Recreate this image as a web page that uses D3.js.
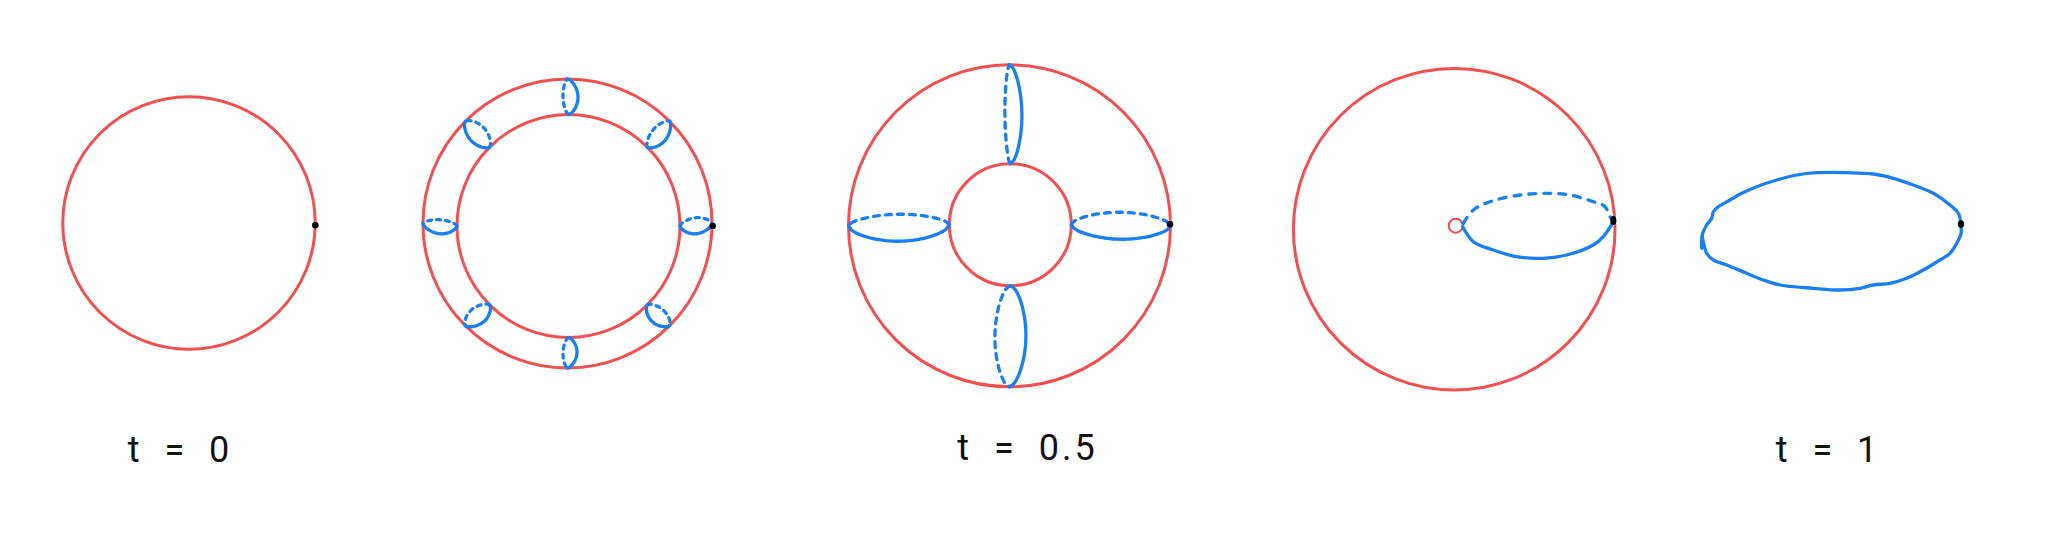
<!DOCTYPE html>
<html>
<head>
<meta charset="utf-8">
<script src="https://cdn.jsdelivr.net/npm/d3@7"></script>
<style>
  html, body { margin: 0; padding: 0; background: #ffffff; }
  svg { display: block; }
</style>
</head>
<body>
<div id="chart"></div>
<script>
// ---------------- data (in picture units) ----------------
// big red circles: t=0, ring outer, ring inner, t=0.5 outer, t=0.5 inner, t=1
const circleCX = [189, 567.5, 568.5, 1009.5, 1010.3, 1454.2];
const circleCY = [223, 223.5, 226, 225.8, 224.7, 229.2];
const circleR  = [126.2, 144.5, 111.5, 161, 61, 160.8];

// small hollow red circle (t = 1 pinch point)
const holeCX = [1455.7];
const holeCY = [225.7];
const holeR  = [7];

// black base points
const dotX  = [315.3, 712.7, 1170, 1613.3, 1961];
const dotY  = [225.3, 226, 224.3, 220.5, 224];
const dotRX = [3.3, 3.2, 3.3, 3, 3.2];
const dotRY = [3.3, 3.2, 3.3, 4.6, 3.8];

// meridian loops on the thin ring (outer idx 1, inner idx 2)
const ringAAngles = [0, 45, 90, 135, 180, 225, 270, 315];
const ringASide   = [1, 1, 1, -1, -1, -1, -1, 1];
const ringASolid  = [9, 9, 10, 9, 9, 9, 9, 9];
const ringADashed = [7, 7, 5, 9, 5, 8, 5, 7];

// meridian loops on the fat ring (outer idx 3, inner idx 4)
const ringBAngles = [0, 90, 180, 270];
const ringBSide   = [1, 1, -1, -1];
const ringBSolid  = [14, 12, 16, 16];
const ringBDashed = [13, 5, 11, 15];

// t = 1 loop inside the sphere
const sphereLoopSolid = [[1462.7,226.7],[1473.3,241.7],[1493.3,250],[1516.7,256.7],[1543.3,258.3],
  [1566.7,255],[1593.3,245],[1603.3,236.7],[1613.3,221.7]];
const sphereLoopDashed = [[1463.3,223.3],[1473.3,210],[1490,201.7],[1520,195],[1546.7,193.3],
  [1570,195],[1593.3,201.7],[1605,206.7],[1610,216.7],[1613.3,221.7]];

// t = 1 free loop (hand drawn)
const blobTop = [[1961,224],[1958.3,213.3],[1950,205],[1933.3,193.3],[1913.3,185],[1893.3,178.3],
  [1873.3,174],[1846.7,172.7],[1816.7,172.7],[1796.7,175],[1776.7,180],[1756.7,186.7],[1741.7,193.3],
  [1730,200],[1718.3,206.7],[1713.3,211.7],[1711.7,218.3],[1706.7,225],[1702.7,233.3],[1701.7,240],[1701.7,248.3]];
const blobBottom = [[1702.2,236],[1706.7,253.3],[1713.3,260],[1726.7,265],[1746.7,273.3],[1763.3,280],
  [1780,285],[1813.3,288.3],[1840,290],[1860,288.3],[1873.3,285],[1890,283.3],[1906.7,278.3],
  [1923.3,270],[1940,260],[1950,253.3],[1956.7,243.3],[1961,233.3],[1961,224]];

// labels
const labelText = ["t = 0", "t = 0.5", "t = 1"];
const labelX    = [180, 1027.5, 1828];
const labelY    = [462, 460, 462];

// ---------------- drawing ----------------
const W = 2048, H = 542;
const RED = "#f25050", BLUE = "#1a7ff0";

const x = d3.scaleLinear().domain([0, 2048]).range([0, W]);
const y = d3.scaleLinear().domain([0, 542]).range([0, H]);
const len = d3.scaleLinear().domain([0, 2048]).range([0, W]);

const svg = d3.select("#chart").append("svg")
  .attr("width", W).attr("height", H)
  .attr("viewBox", `0 0 ${W} ${H}`);

svg.append("rect").attr("width", W).attr("height", H).attr("fill", "#fff");

const circles = circleCX.map((cx, i) => ({ cx, cy: circleCY[i], r: circleR[i] }));
svg.append("g").selectAll("circle").data(circles).join("circle")
  .attr("cx", d => x(d.cx)).attr("cy", d => y(d.cy)).attr("r", d => len(d.r))
  .attr("fill", "none").attr("stroke", RED).attr("stroke-width", 3);

svg.append("g").selectAll("circle").data(holeCX.map((cx, i) => ({ cx, cy: holeCY[i], r: holeR[i] })))
  .join("circle")
  .attr("cx", d => x(d.cx)).attr("cy", d => y(d.cy)).attr("r", d => len(d.r))
  .attr("fill", "none").attr("stroke", RED).attr("stroke-width", 2);

const line = d3.line().x(d => x(d[0])).y(d => y(d[1])).curve(d3.curveCatmullRom.alpha(0.5));

function loopPaths(outer, inner, angles, sides, solids, dashes, power) {
  const out = [];
  angles.forEach((deg, i) => {
    const t = deg * Math.PI / 180;
    const ux = Math.cos(t), uy = -Math.sin(t);
    const px = Math.sin(t), py = Math.cos(t);
    const a = [circleCX[inner] + circleR[inner] * ux, circleCY[inner] + circleR[inner] * uy];
    const b = [circleCX[outer] + circleR[outer] * ux, circleCY[outer] + circleR[outer] * uy];
    const mk = amp => d3.range(0, 1.0001, 1 / 30).map(s => {
      const k = amp * Math.pow(Math.sin(Math.PI * s), power);
      return [a[0] + (b[0] - a[0]) * s + k * px, a[1] + (b[1] - a[1]) * s + k * py];
    });
    out.push({ pts: mk(sides[i] * solids[i]), dashed: false });
    out.push({ pts: mk(-sides[i] * dashes[i]), dashed: true });
  });
  return out;
}

const ringALoops = loopPaths(1, 2, ringAAngles, ringASide, ringASolid, ringADashed, 0.6);
const ringBLoops = loopPaths(3, 4, ringBAngles, ringBSide, ringBSolid, ringBDashed, 0.55);

function drawLoops(data, dash) {
  svg.append("g").selectAll("path").data(data).join("path")
    .attr("d", d => line(d.pts))
    .attr("fill", "none").attr("stroke", BLUE).attr("stroke-width", 3.3)
    .attr("stroke-linecap", "round").attr("stroke-linejoin", "round")
    .attr("stroke-dasharray", d => d.dashed ? dash : null);
}
drawLoops(ringALoops, "4,5");
drawLoops(ringBLoops, "6,6");
drawLoops([{ pts: sphereLoopSolid, dashed: false }, { pts: sphereLoopDashed, dashed: true }], "7,8");
drawLoops([{ pts: blobTop, dashed: false }, { pts: blobBottom, dashed: false }], null);

svg.append("g").selectAll("ellipse").data(dotX.map((v, i) => ({ x: v, y: dotY[i], rx: dotRX[i], ry: dotRY[i] })))
  .join("ellipse")
  .attr("cx", d => x(d.x)).attr("cy", d => y(d.y))
  .attr("rx", d => len(d.rx)).attr("ry", d => len(d.ry))
  .attr("fill", "#000");

svg.append("g").selectAll("text").data(labelText).join("text")
  .attr("x", (d, i) => x(labelX[i])).attr("y", (d, i) => y(labelY[i]))
  .attr("text-anchor", "middle")
  .attr("font-family", "Roboto, 'DejaVu Sans', sans-serif")
  .attr("font-weight", 400)
  .attr("font-size", 36)
  .attr("letter-spacing", 3)
  .attr("word-spacing", 10)
  .attr("fill", "#111")
  .text(d => d);
</script>
</body>
</html>
